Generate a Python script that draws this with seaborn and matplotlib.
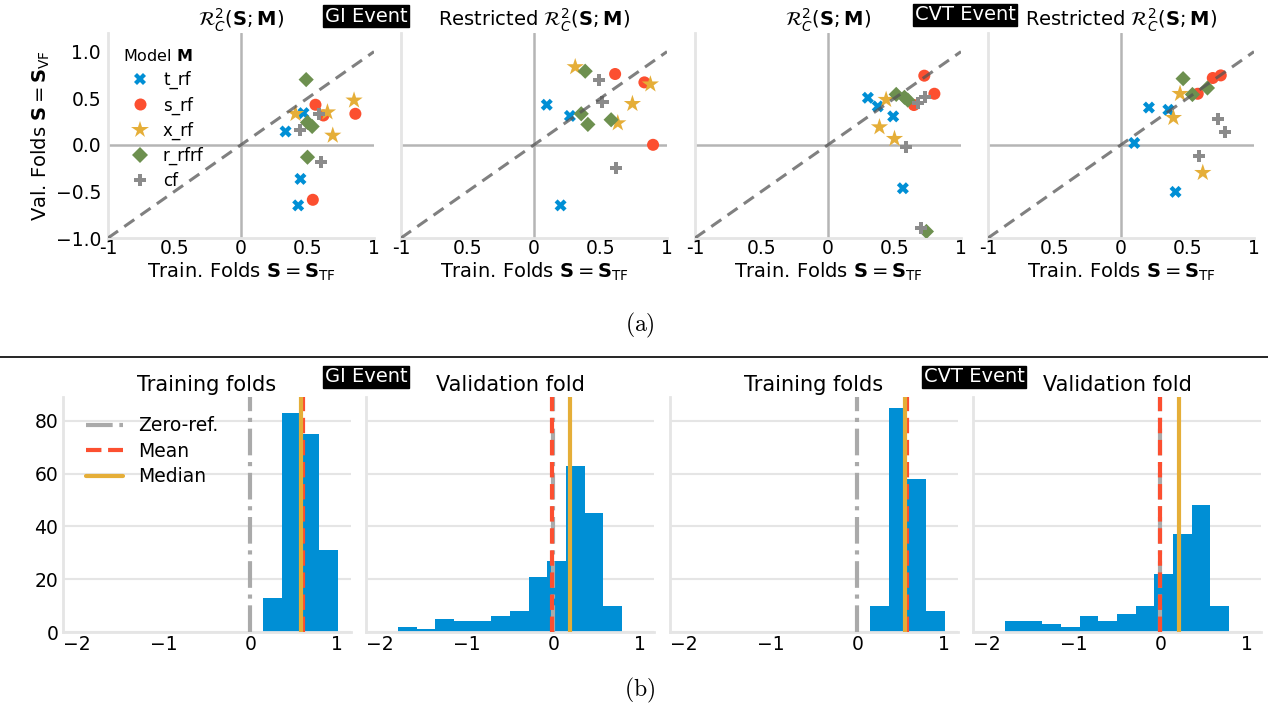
import matplotlib
matplotlib.use("Agg")
import matplotlib.pyplot as plt
from matplotlib.lines import Line2D
import numpy as np
import pandas as pd
import seaborn as sns

# ---- data ----
models = ["t_rf", "s_rf", "x_rf", "r_rfrf", "cf"]
model_colors = ["#008fd5", "#fc4f30", "#e5ae38", "#6d904f", "#8b8b8b"]
model_markers = ["X", "o", "*", "D", "P"]
model_sizes = [75, 75, 170, 60, 75]

# one list per model, in the order of `models`
gi_full_x = [[0.47, 0.335, 0.447, 0.43], [0.56, 0.62, 0.86, 0.54], [0.41, 0.65, 0.85, 0.69],
             [0.49, 0.50, 0.535, 0.50], [0.44, 0.59, 0.60]]
gi_full_y = [[0.34, 0.143, -0.366, -0.65], [0.43, 0.315, 0.333, -0.59], [0.333, 0.35, 0.477, 0.10],
             [0.70, 0.24, 0.197, -0.133], [0.154, 0.326, -0.183]]
gi_restr_x = [[0.096, 0.27, 0.20], [0.61, 0.83, 0.895], [0.31, 0.875, 0.74, 0.63],
              [0.385, 0.355, 0.405, 0.58], [0.49, 0.515, 0.62]]
gi_restr_y = [[0.43, 0.31, -0.65], [0.76, 0.67, 0.0], [0.835, 0.65, 0.44, 0.233],
              [0.79, 0.333, 0.219, 0.269], [0.70, 0.459, -0.247]]
cvt_full_x = [[0.30, 0.374, 0.49, 0.563], [0.724, 0.80, 0.646], [0.437, 0.387, 0.50],
              [0.513, 0.575, 0.60, 0.74], [0.73, 0.68, 0.59, 0.70]]
cvt_full_y = [[0.505, 0.412, 0.305, -0.466], [0.742, 0.548, 0.427], [0.484, 0.19, 0.065],
              [0.541, 0.51, 0.48, -0.93], [0.513, 0.448, -0.025, -0.89]]
cvt_restr_x = [[0.21, 0.356, 0.10, 0.41], [0.75, 0.69, 0.577], [0.444, 0.394, 0.615],
               [0.467, 0.537, 0.65], [0.728, 0.78, 0.587]]
cvt_restr_y = [[0.40, 0.376, 0.02, -0.505], [0.745, 0.717, 0.548], [0.548, 0.29, -0.30],
               [0.71, 0.54, 0.61], [0.28, 0.136, -0.122]]

bin_edges = [-1.79, -1.575, -1.36, -1.145, -0.93, -0.715, -0.5, -0.285, -0.07,
             0.145, 0.36, 0.575, 0.79, 1.005]
gi_train_counts = [0, 0, 0, 0, 0, 0, 0, 0, 0, 13, 83, 75, 31]
gi_val_counts = [2, 1, 5, 4, 4, 6, 8, 21, 27, 63, 45, 10, 0]
cvt_train_counts = [0, 0, 0, 0, 0, 0, 0, 0, 0, 10, 85, 58, 8]
cvt_val_counts = [4, 4, 3, 2, 6, 4, 7, 10, 22, 37, 48, 10, 0]
hist_means = [0.61, -0.02, 0.572, -0.01]
hist_medians = [0.585, 0.19, 0.549, 0.21]

# ---- style ----
sns.set_theme(style="white")
plt.rcParams["font.family"] = ["DejaVu Sans"]
plt.rcParams["mathtext.fontset"] = "dejavusans"
for k in ["text.color", "axes.labelcolor", "xtick.color", "ytick.color", "axes.titlecolor"]:
    plt.rcParams[k] = "black"
light = "#e5e5e5"

W, H = 1268, 711
fig = plt.figure(figsize=(W / 100, H / 100), dpi=100)


def px_axes(left, top, right, bottom):
    return fig.add_axes([left / W, 1 - bottom / H, (right - left) / W, (bottom - top) / H])


def clean(ax):
    for s in ["top", "right"]:
        ax.spines[s].set_visible(False)
    for s in ["left", "bottom"]:
        ax.spines[s].set_color(light)
        ax.spines[s].set_linewidth(2)
    ax.tick_params(length=0, labelsize=13.5)


# ---- (a) scatter panels ----
scatter_sets = [(gi_full_x, gi_full_y), (gi_restr_x, gi_restr_y),
                (cvt_full_x, cvt_full_y), (cvt_restr_x, cvt_restr_y)]
top_titles = [r"$\mathcal{R}_C^2(\mathbf{S};\mathbf{M})$",
              r"Restricted $\mathcal{R}_C^2(\mathbf{S};\mathbf{M})$"] * 2
top_lefts = [108, 401, 695, 988]

for i, (xs, ys) in enumerate(scatter_sets):
    ax = px_axes(top_lefts[i], 33, top_lefts[i] + 266, 238)
    rows = []
    for m, xl, yl in zip(models, xs, ys):
        for x, y in zip(xl, yl):
            rows.append({"x": x, "y": y, "model": m})
    df = pd.DataFrame(rows)
    ax.axhline(0, color="#b5b5b5", lw=1.8, zorder=1)
    ax.axvline(0, color="#b5b5b5", lw=1.8, zorder=1)
    sns.scatterplot(data=df, x="x", y="y", hue="model", style="model", size="model",
                    hue_order=models, style_order=models, size_order=models,
                    palette=dict(zip(models, model_colors)),
                    markers=dict(zip(models, model_markers)),
                    sizes=dict(zip(models, model_sizes)),
                    linewidth=0, ax=ax, zorder=3, legend=False)
    ax.plot([-1, 1], [-1, 1], ls="--", color="#555555", alpha=0.75, lw=2.2,
            dashes=(4, 2.5), zorder=4)
    ax.set_xlim(-1, 1)
    ax.set_ylim(-1, 1.2)
    ax.set_xticks([-1, -0.5, 0, 0.5, 1])
    ax.set_xticklabels(["-1", "0.5", "0", "0.5", "1"])
    ax.set_yticks([-1, -0.5, 0, 0.5, 1])
    clean(ax)
    ax.tick_params(axis="x", pad=1)
    ax.tick_params(axis="y", pad=5)
    ax.set_xlabel(r"Train. Folds $\mathbf{S}=\mathbf{S}_\mathrm{TF}$", fontsize=14, labelpad=2)
    ax.set_title(top_titles[i], fontsize=14, pad=5)
    if i == 0:
        ax.set_yticklabels(["\u22121.0", "\u22120.5", "0.0", "0.5", "1.0"])
        ax.set_ylabel(r"Val. Folds $\mathbf{S}=\mathbf{S}_\mathrm{VF}$", fontsize=14, labelpad=3)
        handles = [Line2D([], [], ls="", marker=mk, color=c, markeredgewidth=0,
                          markersize=np.sqrt(sz), label=m)
                   for m, c, mk, sz in zip(models, model_colors, model_markers, model_sizes)]
        leg = ax.legend(handles=handles, loc="upper left", bbox_to_anchor=(0.0, 1.0),
                        frameon=False, title=r"Model $\mathbf{M}$", fontsize=12,
                        title_fontsize=11.5, handletextpad=0.4, labelspacing=0.42)
        leg._legend_box.align = "left"
    else:
        ax.set_yticklabels([])
        ax.set_ylabel("")

# ---- (b) histogram panels ----
hist_counts = [gi_train_counts, gi_val_counts, cvt_train_counts, cvt_val_counts]
hist_titles = ["Training folds", "Validation fold"] * 2
bottom_lefts = [63, 366, 670, 973]
centers = [(a + b) / 2 for a, b in zip(bin_edges[:-1], bin_edges[1:])]

for i, counts in enumerate(hist_counts):
    ax = px_axes(bottom_lefts[i], 397, bottom_lefts[i] + 288, 632)
    sns.histplot(x=centers, weights=counts, bins=bin_edges, ax=ax, color="#008fd5",
                 alpha=1, linewidth=0, edgecolor=None, zorder=2)
    l0 = ax.axvline(0, color="#aaaaaa", ls="-.", lw=3, zorder=3, label="Zero-ref.")
    l1 = ax.axvline(hist_means[i], color="#fc4f30", ls="--", lw=3, zorder=4, label="Mean")
    l2 = ax.axvline(hist_medians[i], color="#e5ae38", ls="-", lw=3, zorder=4, label="Median")
    ax.set_xlim(-2.16, 1.16)
    ax.set_ylim(0, 89)
    ax.set_yticks([0, 20, 40, 60, 80])
    ax.set_xticks([-2, -1, 0, 1])
    ax.grid(axis="y", color=light, lw=1.5, zorder=0)
    ax.set_axisbelow(True)
    clean(ax)
    ax.tick_params(axis="x", pad=2)
    ax.set_ylabel("")
    ax.set_title(hist_titles[i], fontsize=15, pad=4)
    if i == 0:
        ax.legend(handles=[l0, l1, l2], loc="upper left", bbox_to_anchor=(0.02, 0.99),
                  frameon=False, fontsize=13.5, handlelength=2.0, labelspacing=0.35)
    else:
        ax.set_yticklabels([])

# ---- event tags, panel labels, separator ----
tag = dict(color="white", fontsize=14, ha="center", va="center",
           bbox=dict(boxstyle="square,pad=0.1", fc="black", ec="black"))
fig.text(366 / W, 1 - 16 / H, "GI Event", **tag)
fig.text(965 / W, 1 - 15 / H, "CVT Event", **tag)
fig.text(366 / W, 1 - 377 / H, "GI Event", **tag)
fig.text(974 / W, 1 - 377 / H, "CVT Event", **tag)

fig.text(640 / W, 1 - 325 / H, r"$\mathrm{(a)}$", fontsize=17, ha="center", va="center",
         math_fontfamily="cm")
fig.text(640 / W, 1 - 690 / H, r"$\mathrm{(b)}$", fontsize=17, ha="center", va="center",
         math_fontfamily="cm")
fig.add_artist(Line2D([0, 1], [1 - 357 / H, 1 - 357 / H], color="black", lw=1.2))

fig.savefig("out.png", dpi=100)
